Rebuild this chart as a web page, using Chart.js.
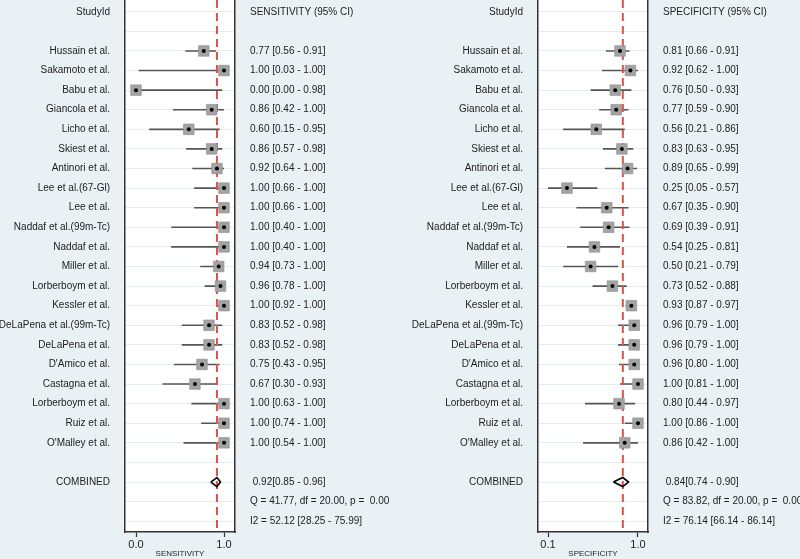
<!DOCTYPE html>
<html>
<head>
<meta charset="utf-8">
<script src="https://cdn.jsdelivr.net/npm/chart.js@4.4.1/dist/chart.umd.min.js"></script>
<style>
  body { margin: 0; background: #e9f1f5; }
  canvas { position: absolute; top: 0; }
  #sens { left: 0; }
  #spec { left: 400px; }
</style>
</head>
<body>
<canvas id="sens" width="400" height="559"></canvas>
<canvas id="spec" width="400" height="559"></canvas>
<script>
var studies = ["Hussain et al.", "Sakamoto et al.", "Babu et al.", "Giancola et al.", "Licho et al.",
  "Skiest et al.", "Antinori et al.", "Lee et al.(67-Gl)", "Lee et al.", "Naddaf et al.(99m-Tc)",
  "Naddaf et al.", "Miller et al.", "Lorberboym et al.", "Kessler et al.", "DeLaPena et al.(99m-Tc)",
  "DeLaPena et al.", "D'Amico et al.", "Castagna et al.", "Lorberboym et al.", "Ruiz et al.", "O'Malley et al."];

var sens   = [0.77, 1.00, 0.00, 0.86, 0.60, 0.86, 0.92, 1.00, 1.00, 1.00, 1.00, 0.94, 0.96, 1.00, 0.83, 0.83, 0.75, 0.67, 1.00, 1.00, 1.00];
var sensLo = [0.56, 0.03, 0.00, 0.42, 0.15, 0.57, 0.64, 0.66, 0.66, 0.40, 0.40, 0.73, 0.78, 0.92, 0.52, 0.52, 0.43, 0.30, 0.63, 0.74, 0.54];
var sensHi = [0.91, 1.00, 0.98, 1.00, 0.95, 0.98, 1.00, 1.00, 1.00, 1.00, 1.00, 1.00, 1.00, 1.00, 0.98, 0.98, 0.95, 0.93, 1.00, 1.00, 1.00];

var spec   = [0.81, 0.92, 0.76, 0.77, 0.56, 0.83, 0.89, 0.25, 0.67, 0.69, 0.54, 0.50, 0.73, 0.93, 0.96, 0.96, 0.96, 1.00, 0.80, 1.00, 0.86];
var specLo = [0.66, 0.62, 0.50, 0.59, 0.21, 0.63, 0.65, 0.05, 0.35, 0.39, 0.25, 0.21, 0.52, 0.87, 0.79, 0.79, 0.80, 0.81, 0.44, 0.86, 0.42];
var specHi = [0.91, 1.00, 0.93, 0.90, 0.86, 0.95, 0.99, 0.57, 0.90, 0.91, 0.81, 0.79, 0.88, 0.97, 1.00, 1.00, 1.00, 1.00, 0.97, 1.00, 1.00];

// pooled estimate [est, lo, hi], heterogeneity Q [Q, df, p], I2 [I2, lo, hi]
var sensPooled = [0.92, 0.85, 0.96];
var specPooled = [0.84, 0.74, 0.90];
var sensQ  = [41.77, 20.00, 0.00];
var specQ  = [83.82, 20.00, 0.00];
var sensI2 = [52.12, 28.25, 75.99];
var specI2 = [76.14, 66.14, 86.14];

var sensTicks = [0.00, 1.00];
var specTicks = [0.05, 1.00];

Chart.defaults.font.family = "'Liberation Sans', Arial, sans-serif";
Chart.defaults.color = '#222';

function ci(e, l, h) {
  return e.toFixed(2) + ' [' + l.toFixed(2) + ' - ' + h.toFixed(2) + ']';
}

var plotBg = {
  id: 'plotBg',
  beforeDraw: function(chart) {
    var a = chart.chartArea, c = chart.ctx;
    c.save();
    c.fillStyle = '#ffffff';
    c.fillRect(a.left, a.top, a.right - a.left, a.bottom - a.top);
    c.restore();
  }
};

function forest(id, title, header, est, lo, hi, pooled, q, i2, ticks, xmin, xmax, leftW, rightW) {
  var n = studies.length;
  var rowPooled = n + 3;
  var left = ['StudyId', ''].concat(studies, ['', 'COMBINED', '', '']);
  var right = [header, ''].concat(
    est.map(function(v, i) { return ci(v, lo[i], hi[i]); }),
    ['', ' ' + pooled[0].toFixed(2) + '[' + pooled[1].toFixed(2) + ' - ' + pooled[2].toFixed(2) + ']',
     'Q = ' + q[0].toFixed(2) + ', df = ' + q[1].toFixed(2) + ', p =  ' + q[2].toFixed(2),
     'I2 = ' + i2[0].toFixed(2) + ' [' + i2[1].toFixed(2) + ' - ' + i2[2].toFixed(2) + ']']);

  var ymin = -0.6, ymax = 26.55;

  var ciLines = [];
  est.forEach(function(v, i) {
    ciLines.push({x: lo[i], y: i + 2}, {x: hi[i], y: i + 2}, {x: hi[i], y: null});
  });
  var pts = est.map(function(v, i) { return {x: v, y: i + 2}; });
  var d = 0.23;
  var diamond = [
    {x: pooled[1], y: rowPooled}, {x: pooled[0], y: rowPooled - d},
    {x: pooled[2], y: rowPooled}, {x: pooled[0], y: rowPooled + d},
    {x: pooled[1], y: rowPooled}
  ];

  function yTicks(s) {
    s.ticks = left.map(function(_, i) { return {value: i}; });
  }

  new Chart(document.getElementById(id), {
    type: 'scatter',
    data: {
      datasets: [
        {type: 'scatter', data: pts, pointStyle: 'circle', pointRadius: 2, backgroundColor: '#000', borderWidth: 0, order: 0},
        {type: 'scatter', data: pts, pointStyle: 'rect', pointRadius: 7.5, backgroundColor: '#a3a3a3',
          borderColor: '#8f8f8f', borderWidth: 0.6, order: 1},
        {type: 'line', data: diamond, borderColor: '#000', borderWidth: 1.6, pointRadius: 0, fill: false, order: 2},
        {type: 'line', data: [{x: pooled[0], y: ymin}, {x: pooled[0], y: ymax}], borderColor: '#d9534f',
          borderWidth: 2, borderDash: [8, 5], pointRadius: 0, order: 3},
        {type: 'line', data: ciLines, borderColor: '#555', borderWidth: 1.6, pointRadius: 0, spanGaps: false, order: 4}
      ]
    },
    options: {
      responsive: false,
      animation: false,
      devicePixelRatio: 1,
      layout: {padding: 0, autoPadding: false},
      plugins: {legend: {display: false}, tooltip: {enabled: false}},
      scales: {
        x: {
          type: 'linear', min: xmin, max: xmax,
          afterBuildTicks: function(s) { s.ticks = ticks.map(function(v) { return {value: v}; }); },
          afterFit: function(s) { s.height = 27; s.paddingLeft = 0; s.paddingRight = 0; },
          ticks: {font: {size: 11}, padding: 1, callback: function(v) { return v.toFixed(1); }},
          grid: {drawOnChartArea: false, drawTicks: true, tickLength: 5, tickColor: '#333', tickWidth: 1.2},
          border: {display: true, color: '#333', width: 1.5},
          title: {display: true, text: title, font: {size: 8}, padding: 0, color: '#222'}
        },
        y: {
          type: 'linear', reverse: true, min: ymin, max: ymax, position: 'left',
          afterBuildTicks: yTicks,
          afterFit: function(s) { s.width = leftW; s.paddingTop = 0; s.paddingBottom = 0; },
          ticks: {autoSkip: false, padding: 15, font: {size: 10},
            callback: function(v, i) { return left[i]; }},
          grid: {drawTicks: false, color: 'rgba(195,212,226,0.45)', lineWidth: 1},
          border: {display: true, color: '#333', width: 1.5}
        },
        y2: {
          type: 'linear', reverse: true, min: ymin, max: ymax, position: 'right',
          afterBuildTicks: yTicks,
          afterFit: function(s) { s.width = rightW; s.paddingTop = 0; s.paddingBottom = 0; },
          ticks: {autoSkip: false, padding: 15, font: {size: 10},
            callback: function(v, i) { return right[i]; }},
          grid: {drawOnChartArea: false, drawTicks: false},
          border: {display: true, color: '#333', width: 1.5}
        }
      }
    },
    plugins: [plotBg]
  });
}

forest('sens', 'SENSITIVITY', 'SENSITIVITY (95% CI)', sens, sensLo, sensHi, sensPooled, sensQ, sensI2,
  sensTicks, -0.125, 1.125, 125, 165);
forest('spec', 'SPECIFICITY', 'SPECIFICITY (95% CI)', spec, specLo, specHi, specPooled, specQ, specI2,
  specTicks, -0.0556, 1.1056, 138, 152);
</script>
</body>
</html>
